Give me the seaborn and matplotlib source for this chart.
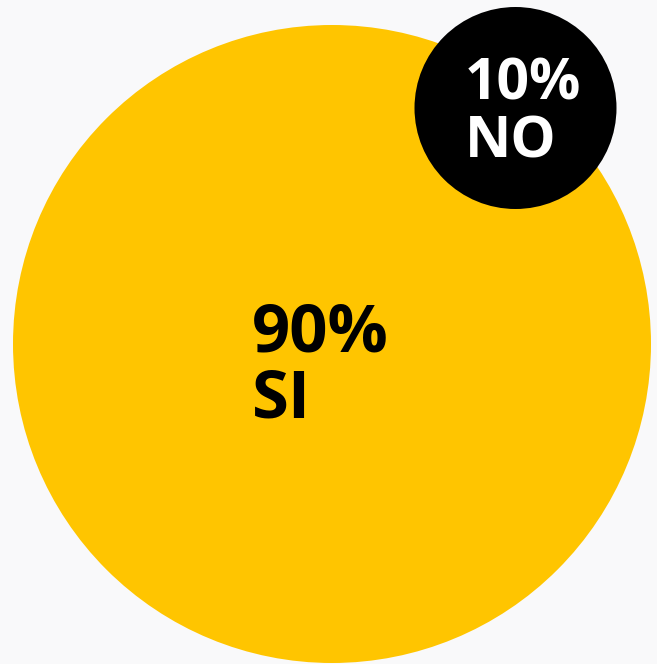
import numpy as np
import pandas as pd
import matplotlib
matplotlib.use("Agg")
import matplotlib.pyplot as plt
import seaborn as sns

# data
categories = ["SI", "NO"]
values = [90, 10]
bubble_colors = ["#FFC500", "#000000"]
text_colors = ["#000000", "#FFFFFF"]

# layout (pixel space, y down)
W, H = 657, 664
centers_x = [332, 515.5]
centers_y = [344, 108]
text_xy = [(252, 418), (465, 158)]   # baseline of the last line
font_px = [67, 57]
BIG_DIAM_PX = 638
SMALL_DIAM_PX = 202

sns.set_theme(style="white")
plt.rcParams["font.family"] = ["Open Sans", "DejaVu Sans"]

df = pd.DataFrame({"cat": categories, "val": values,
                   "x": centers_x, "y": centers_y})

# marker area in pt^2
pt_per_px = 72 / 100
sizes = ((SMALL_DIAM_PX * pt_per_px) ** 2, (BIG_DIAM_PX * pt_per_px) ** 2)

fig = plt.figure(figsize=(W / 100, H / 100), dpi=100)
fig.patch.set_facecolor("#F9F9FA")
ax = fig.add_axes([0, 0, 1, 1])
ax.set_facecolor("#F9F9FA")

sns.scatterplot(data=df, x="x", y="y", hue="cat", size="val",
                palette=dict(zip(categories, bubble_colors)),
                sizes=sizes, linewidth=0, legend=False, ax=ax)
for coll in ax.collections:
    coll.set_clip_on(False)

for cat, v, (tx, ty), fpx, tc in zip(categories, values, text_xy, font_px, text_colors):
    ax.text(tx, ty, f"{v}%\n{cat}", ha="left", va="baseline",
            fontsize=fpx * pt_per_px, fontweight="bold", color=tc,
            linespacing=1.0)

ax.set_xlim(0, W)
ax.set_ylim(H, 0)
ax.set_axis_off()

fig.savefig("out.png", dpi=100, facecolor=fig.get_facecolor())
